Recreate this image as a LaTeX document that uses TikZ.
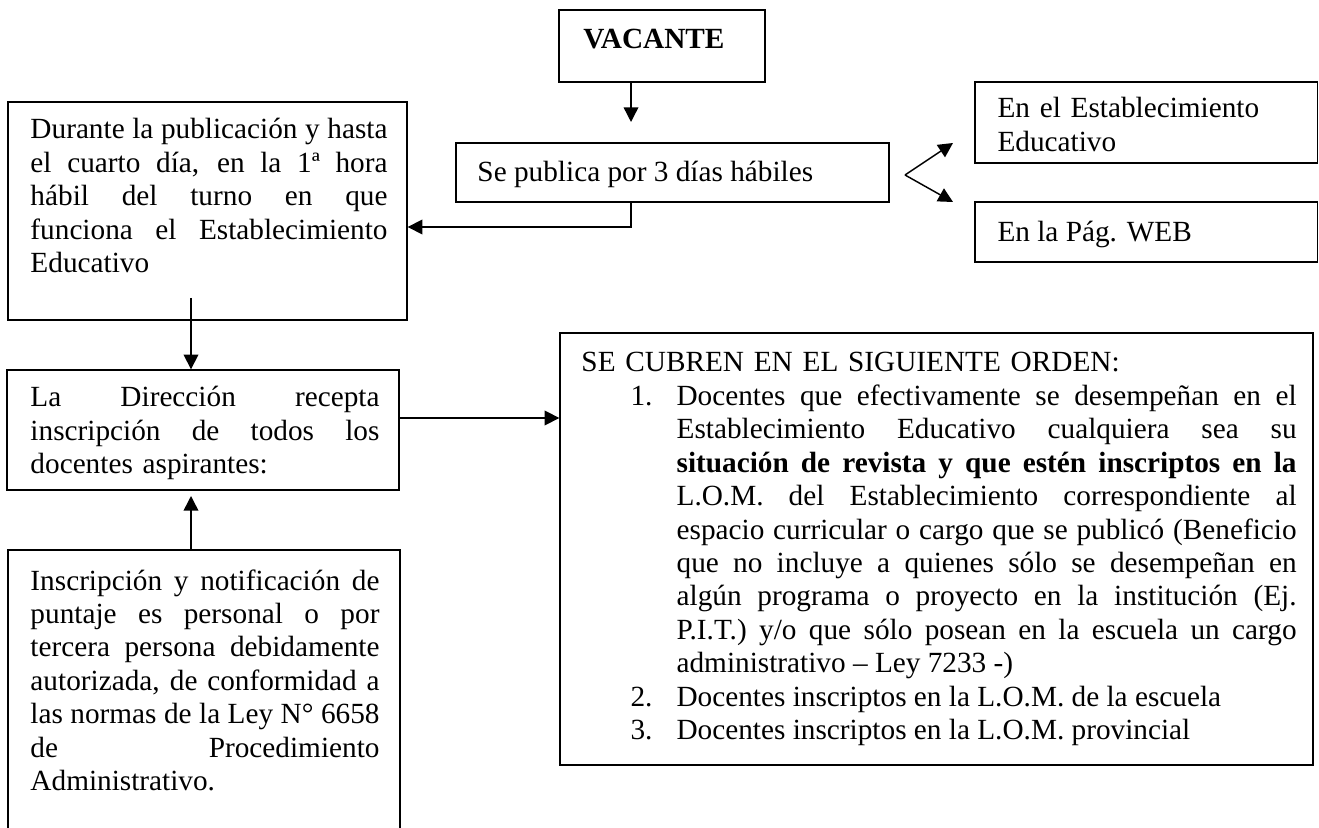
\documentclass[tikz,border=0pt]{standalone}
\usepackage{fontspec}
\setmainfont{Liberation Serif}
\usetikzlibrary{arrows.meta,fit}
\newlength{\jw}
\newcommand{\jl}[1]{{\spaceskip=0pt\xspaceskip=0pt\makebox[\jw][s]{#1}}}
\newcommand{\itj}[2]{{\spaceskip=0pt\xspaceskip=0pt\hspace*{20.1pt}\makebox[18.9pt][l]{#1}\makebox[254.2pt][s]{#2}}}
\newcommand{\itn}[2]{{\spaceskip=0pt\xspaceskip=0pt\hspace*{20.1pt}\makebox[18.9pt][l]{#1}\makebox[254.2pt][l]{#2}}}
\begin{document}
\begin{tikzpicture}[x=0.41pt,y=-0.41pt,
  box/.style={draw, line width=0.55pt, inner sep=0pt},
  txt/.style={inner sep=0pt, anchor=base west, font=\fontsize{12}{13.7}\selectfont, align=left},
  arr/.style={line width=0.6pt, -{Triangle[length=6pt,width=6pt]}}]
\clip (0,0) rectangle (1319,828);
% boxes
\node[box, fit={(559,10) (765,82)}] (vac) {};
\node[box, fit={(456,143) (889,202)}] (pub) {};
\node[box, fit={(975,82) (1317.5,163)}] (est) {};
\node[box, fit={(975,202) (1317.5,262)}] (web) {};
\node[box, fit={(8,102) (407,320)}] (dur) {};
\node[box, fit={(7,370) (399,490)}] (dir) {};
\node[box, fit={(8,550) (400,860)}] (ins) {};
\node[box, fit={(560,333) (1313,765)}] (ord) {};
% texts
\node[txt] (vact) at (583,49) {\textbf{VACANTE}};
\node[txt] (pubt) at (477,182) {Se publica por 3 días hábiles};
\node[txt, text width=125pt] (estt) at (997,118) {En el Establecimiento\\Educativo};
\node[txt] (webt) at (997,242) {En la Pág. WEB};
\node[txt, text width=146.4pt] (durt) at (30,139) {\setlength{\jw}{146.4pt}%
\jl{Durante la publicación y hasta}\\
\jl{el cuarto día, en la 1ª hora}\\
\jl{hábil del turno en que}\\
\jl{funciona el Establecimiento}\\
Educativo};
\node[txt, text width=143.1pt] (dirt) at (30,407) {\setlength{\jw}{143.1pt}%
\jl{La Dirección recepta}\\
\jl{inscripción de todos los}\\
docentes aspirantes:};
\node[txt, text width=143.1pt] (inst) at (30,590) {\setlength{\jw}{143.1pt}%
\jl{Inscripción y notificación de}\\
\jl{puntaje es personal o por}\\
\jl{tercera persona debidamente}\\
\jl{autorizada, de conformidad a}\\
\jl{las normas de la Ley N° 6658}\\
\jl{de Procedimiento}\\
Administrativo.};
\node[txt, text width=293.2pt] (ordt) at (581,372) {%
SE CUBREN EN EL SIGUIENTE ORDEN:\\
\itj{1.}{Docentes que efectivamente se desempeñan en el}\\
\itj{}{Establecimiento Educativo cualquiera sea su}\\
\itj{}{\textbf{situación de revista y que estén inscriptos en la}}\\
\itj{}{L.O.M. del Establecimiento correspondiente al}\\
\itj{}{espacio curricular o cargo que se publicó (Beneficio}\\
\itj{}{que no incluye a quienes sólo se desempeñan en}\\
\itj{}{algún programa o proyecto en la institución (Ej.}\\
\itj{}{P.I.T.) y/o que sólo posean en la escuela un cargo}\\
\itn{}{administrativo – Ley 7233 -)}\\
\itn{2.}{Docentes inscriptos en la L.O.M. de la escuela}\\
\itn{3.}{Docentes inscriptos en la L.O.M. provincial}};
% connector points
\coordinate (a1) at (631,122);
\coordinate (b1) at (631,227);
\coordinate (c1) at (191,298);
\coordinate (d1) at (191,496);
\coordinate (e1) at (418,418);
\coordinate (f0) at (905,175);
\coordinate (f1) at (953,143);
\coordinate (f2) at (953,202);
% connectors
\draw[arr] (vac.south -| a1) -- (a1);
\draw[arr] (pub.south -| b1) -- (b1) -- (dur.east |- b1);
\draw[arr] (c1) -- (dir.north -| c1);
\draw[arr] (ins.north -| d1) -- (d1);
\draw[arr] (dir.east |- e1) -- (ord.west |- e1);
\draw[arr] (f0) -- (f1);
\draw[arr] (f0) -- (f2);
\end{tikzpicture}
\end{document}
